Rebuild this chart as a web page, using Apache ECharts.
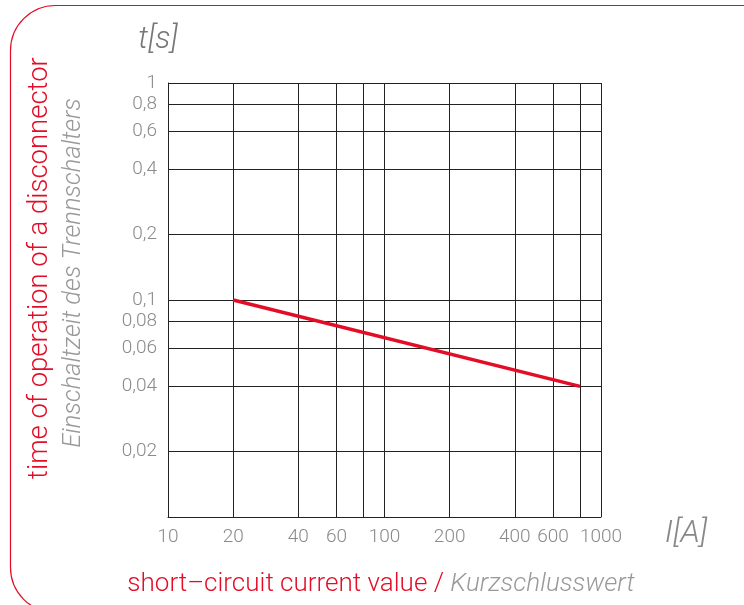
<!DOCTYPE html>
<html><head><meta charset="utf-8">
<script src="https://cdn.jsdelivr.net/npm/echarts@6/dist/echarts.min.js"></script>
<style>html,body{margin:0;padding:0;background:#fff}#c{width:744px;height:605px}</style>
</head><body><div id="c"></div>
<script>
const currentA = [20, 800];
const timeS = [0.1, 0.04];
const xGridValues = [10, 20, 40, 60, 80, 100, 200, 400, 600, 800, 1000];
const xLabelValues = [10, 20, 40, 60, 100, 200, 400, 600, 1000];
const yGridValues = [0.01, 0.02, 0.04, 0.06, 0.08, 0.1, 0.2, 0.4, 0.6, 0.8, 1];
const yLabelValues = [0.02, 0.04, 0.06, 0.08, 0.1, 0.2, 0.4, 0.6, 0.8, 1];

const FONT = '"Roboto", sans-serif';
const GRAY = '#8a8a8a';
const RED = '#e30d27';

const chart = echarts.init(document.getElementById('c'));
chart.setOption({
  animation: false,
  grid: { left: 168, right: 143, top: 83, bottom: 88, show: false },
  xAxis: {
    type: 'log', logBase: 10, min: 10, max: 1000,
    axisLine: { show: true, lineStyle: { color: '#222', width: 1 } },
    axisTick: { show: false, customValues: xGridValues },
    splitLine: { show: true, lineStyle: { color: '#222', width: 1 } },
    axisLabel: { customValues: xLabelValues, color: GRAY, fontFamily: FONT, fontWeight: 300, fontSize: 19, margin: 11,
      formatter: v => String(Math.round(v)) },
  },
  yAxis: {
    type: 'log', logBase: 10, min: 0.01, max: 1,
    axisLine: { show: true, lineStyle: { color: '#222', width: 1 } },
    axisTick: { show: false, customValues: yGridValues },
    splitLine: { show: true, lineStyle: { color: '#222', width: 1 } },
    axisLabel: { customValues: yLabelValues, color: GRAY, fontFamily: FONT, fontWeight: 300, fontSize: 19, margin: 11,
      formatter: v => String(+v.toPrecision(3)).replace('.', ',') },
  },
  series: [{
    type: 'line', symbol: 'none',
    data: currentA.map((x, i) => [x, timeS[i]]),
    lineStyle: { color: RED, width: 3.5 },
  }],
  graphic: [
    { type: 'rect', shape: { x: 10.5, y: 5.5, width: 900, height: 607, r: [45, 0, 0, 45] },
      style: { fill: 'none', stroke: RED, lineWidth: 1.2 }, silent: true },
    { type: 'text', x: 158, y: 40, style: { text: 't[s]', font: 'italic 300 31px ' + FONT, fill: '#777', align: 'center', verticalAlign: 'middle' } },
    { type: 'text', x: 686, y: 534, style: { text: 'I[A]', font: 'italic 300 32px ' + FONT, fill: '#888', align: 'center', verticalAlign: 'middle' } },
    { type: 'text', x: 40, y: 268, rotation: Math.PI / 2, style: { text: 'time of operation of a disconnector', font: '300 27.5px ' + FONT, fill: RED, align: 'center', verticalAlign: 'middle' } },
    { type: 'text', x: 74, y: 273, rotation: Math.PI / 2, style: { text: 'Einschaltzeit des Trennschalters', font: 'italic 300 25.5px ' + FONT, fill: '#999', align: 'center', verticalAlign: 'middle' } },
    { type: 'text', x: 381, y: 584, style: {
      text: '{a|short–circuit current value / }{b|Kurzschlusswert}', align: 'center', verticalAlign: 'middle',
      rich: { a: { font: '300 26px ' + FONT, fill: RED }, b: { font: 'italic 300 26px ' + FONT, fill: '#999' } } } },
  ],
});
</script></body></html>
